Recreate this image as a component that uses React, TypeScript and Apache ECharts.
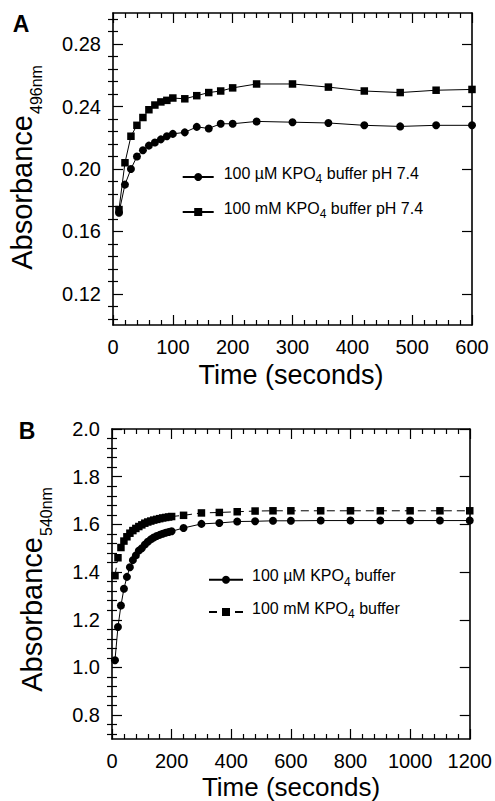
import React, { useEffect, useRef } from 'react';
import * as echarts from 'echarts';

const FONT = "'Liberation Sans', Arial, Helvetica, sans-serif";

// Panel A (absorbance at 496 nm)
const timeA = [10, 20, 30, 40, 50, 60, 70, 80, 90, 100, 120, 140, 160, 180, 200, 240, 300, 360, 420, 480, 540, 600];
const absA_uM = [0.172, 0.19, 0.2, 0.208, 0.212, 0.215, 0.217, 0.219, 0.221, 0.2225, 0.2235, 0.227, 0.226, 0.229, 0.229, 0.2305, 0.23, 0.2295, 0.228, 0.2273, 0.228, 0.228];
const absA_mM = [0.174, 0.204, 0.221, 0.228, 0.233, 0.238, 0.241, 0.243, 0.244, 0.2455, 0.245, 0.247, 0.249, 0.25, 0.252, 0.2545, 0.2545, 0.2525, 0.25, 0.249, 0.2505, 0.251];

// Panel B (absorbance at 540 nm)
const timeB = [10, 20, 30, 40, 50, 60, 70, 80, 90, 100, 110, 120, 130, 140, 150, 160, 170, 180, 190, 200, 240, 300, 360, 420, 480, 540, 600, 700, 800, 900, 1000, 1100, 1200];
const absB_uM = [1.03, 1.17, 1.26, 1.33, 1.38, 1.42, 1.45, 1.47, 1.49, 1.5, 1.515, 1.527, 1.537, 1.545, 1.551, 1.556, 1.561, 1.565, 1.568, 1.571, 1.585, 1.602, 1.606, 1.612, 1.613, 1.615, 1.615, 1.616, 1.616, 1.616, 1.616, 1.616, 1.616];
const absB_mM = [1.385, 1.46, 1.503, 1.53, 1.548, 1.563, 1.574, 1.583, 1.591, 1.598, 1.605, 1.61, 1.614, 1.618, 1.621, 1.624, 1.627, 1.629, 1.631, 1.633, 1.638, 1.648, 1.65, 1.653, 1.656, 1.657, 1.657, 1.657, 1.657, 1.657, 1.657, 1.657, 1.657];

const xTicksA = [0, 100, 200, 300, 400, 500, 600];
const yTicksA = [0.12, 0.16, 0.2, 0.24, 0.28];
const xTicksB = [0, 200, 400, 600, 800, 1000, 1200];
const yTicksB = [0.8, 1.0, 1.2, 1.4, 1.6, 1.8, 2.0];

const namesA = ['100 µM KPO4 buffer pH 7.4', '100 mM KPO4 buffer pH 7.4'];
const namesB = ['100 µM KPO4 buffer', '100 mM KPO4 buffer'];

function minorTicks(majors: number[], min: number, max: number, parts: number) {
  const step = (majors[1] - majors[0]) / parts;
  const out: number[] = [];
  const start = majors[0] - Math.floor((majors[0] - min) / step + 1e-9) * step;
  for (let v = start; v <= max + 1e-9; v += step) {
    if (!majors.some((m) => Math.abs(m - v) < step / 10)) out.push(+v.toFixed(6));
  }
  return out;
}

function axesFor(dim: 'x' | 'y', gridIndex: number, min: number, max: number, majors: number[], fmt: (v: number) => string) {
  const minor = minorTicks(majors, min, max, 5);
  const posMain = dim === 'x' ? 'bottom' : 'left';
  const posOpp = dim === 'x' ? 'top' : 'right';
  const base = { type: 'value', gridIndex, min, max, splitLine: { show: false } };
  const line = { show: true, onZero: false, lineStyle: { color: '#000', width: 1.6 } };
  const tickStyle = { color: '#000', width: 1.2 };
  return [
    {
      ...base,
      position: posMain,
      axisLine: line,
      axisTick: { show: true, inside: true, length: 10, customValues: majors, lineStyle: tickStyle },
      axisLabel: { show: true, customValues: majors, formatter: fmt, color: '#000', fontSize: 20, lineHeight: 20, fontFamily: FONT, margin: 12 },
    },
    {
      ...base,
      position: posMain,
      axisLine: { show: false },
      axisTick: { show: true, inside: true, length: 5, customValues: minor, lineStyle: tickStyle },
      axisLabel: { show: false },
    },
    {
      ...base,
      position: posOpp,
      axisLine: line,
      axisTick: { show: true, inside: true, length: 10, customValues: majors, lineStyle: tickStyle },
      axisLabel: { show: false },
    },
    {
      ...base,
      position: posOpp,
      axisLine: { show: false },
      axisTick: { show: true, inside: true, length: 5, customValues: minor, lineStyle: tickStyle },
      axisLabel: { show: false },
    },
  ];
}

const legendRich = (padLeft: number) => ({
  a: { fontSize: 16, lineHeight: 16, fontFamily: FONT, color: '#000', padding: [0, 0, 4, padLeft], verticalAlign: 'bottom' },
  m: { fontSize: 16, lineHeight: 16, fontFamily: FONT, color: '#000', padding: [0, 0, 4, 0], verticalAlign: 'bottom' },
  s: { fontSize: 12, lineHeight: 12, fontFamily: FONT, color: '#000', verticalAlign: 'bottom' },
});

const legendFormatter = (name: string) => {
  const parts = name.split('KPO4');
  return `{a|${parts[0]}KPO}{s|4}{m|${parts[1]}}`;
};

function makeLegend(name: string, left: number, rowY: number, itemWidth: number, padLeft: number) {
  return {
    data: [name],
    left,
    top: rowY - 10,
    orient: 'horizontal',
    itemWidth,
    itemHeight: 10,
    padding: 0,
    selectedMode: false,
    formatter: legendFormatter,
    textStyle: { rich: legendRich(padLeft) },
  };
}

function yTitle(x: number, y: number, sub: string, subOffset: number) {
  return {
    type: 'group',
    x,
    y,
    rotation: Math.PI / 2,
    children: [
      {
        type: 'text',
        x: 0,
        y: 0,
        style: { text: 'Absorbance', fontSize: 29, fontFamily: FONT, fill: '#000', align: 'right', verticalAlign: 'middle', textAlign: 'right', textVerticalAlign: 'middle' },
      },
      {
        type: 'text',
        x: 1,
        y: subOffset,
        style: { text: sub, fontSize: 16, fontFamily: FONT, fill: '#000', align: 'left', verticalAlign: 'middle', textAlign: 'left', textVerticalAlign: 'middle' },
      },
    ],
  };
}

function centeredText(text: string, x: number, y: number, size: number, weight = 'normal') {
  return {
    type: 'text',
    x,
    y,
    style: { text, fontSize: size, fontWeight: weight, fontFamily: FONT, fill: '#000', align: 'center', verticalAlign: 'middle', textAlign: 'center', textVerticalAlign: 'middle' },
  };
}

export default function App() {
  const ref = useRef<HTMLDivElement>(null);
  useEffect(() => {
    if (!ref.current) return;
    const chart = echarts.init(ref.current, undefined, { renderer: 'svg' });
    const lineStyle = { color: '#000', width: 1 };
    const option: any = {
      animation: false,
      backgroundColor: '#fff',
      grid: [
        { left: 113, top: 13, width: 359, height: 312 },
        { left: 112, top: 429, width: 359, height: 310 },
      ],
      xAxis: [
        ...axesFor('x', 0, 0, 600, xTicksA, (v) => String(Math.round(v))),
        ...axesFor('x', 1, 0, 1200, xTicksB, (v) => String(Math.round(v))),
      ],
      yAxis: [
        ...axesFor('y', 0, 0.1, 0.3, yTicksA, (v) => v.toFixed(2)),
        ...axesFor('y', 1, 0.7, 2.0, yTicksB, (v) => v.toFixed(1)),
      ],
      legend: [
        makeLegend(namesA[0], 181.7, 175, 31, 5),
        makeLegend(namesA[1], 181.7, 210, 31, 5),
        makeLegend(namesB[0], 208, 577.7, 34, 4),
        makeLegend(namesB[1], 208, 610, 34, 4),
      ],
      series: [
        {
          type: 'line', name: namesA[0], xAxisIndex: 0, yAxisIndex: 0,
          data: timeA.map((t, i) => [t, absA_uM[i]]),
          symbol: 'circle', symbolSize: 8, itemStyle: { color: '#000' }, lineStyle,
        },
        {
          type: 'line', name: namesA[1], xAxisIndex: 0, yAxisIndex: 0,
          data: timeA.map((t, i) => [t, absA_mM[i]]),
          symbol: 'rect', symbolSize: 7.5, itemStyle: { color: '#000' }, lineStyle,
        },
        {
          type: 'line', name: namesB[0], xAxisIndex: 4, yAxisIndex: 4,
          data: timeB.map((t, i) => [t, absB_uM[i]]),
          symbol: 'circle', symbolSize: 8, itemStyle: { color: '#000' }, lineStyle,
        },
        {
          type: 'line', name: namesB[1], xAxisIndex: 4, yAxisIndex: 4,
          data: timeB.map((t, i) => [t, absB_mM[i]]),
          symbol: 'rect', symbolSize: 7.5, itemStyle: { color: '#000' },
          lineStyle: { color: '#000', width: 1, type: [8, 5] },
        },
      ],
      graphic: [
        centeredText('A', 21, 24, 23, 'bold'),
        centeredText('B', 27, 431, 23, 'bold'),
        centeredText('Time (seconds)', 291, 375, 27),
        centeredText('Time (seconds)', 291, 787, 26),
        yTitle(22, 115, '496nm', 14.5),
        yTitle(32, 537, '540nm', 14),
      ],
    };
    chart.setOption(option);
    return () => chart.dispose();
  }, []);
  return <div ref={ref} style={{ position: 'absolute', left: 0, top: 0, width: 495, height: 801 }} />;
}
